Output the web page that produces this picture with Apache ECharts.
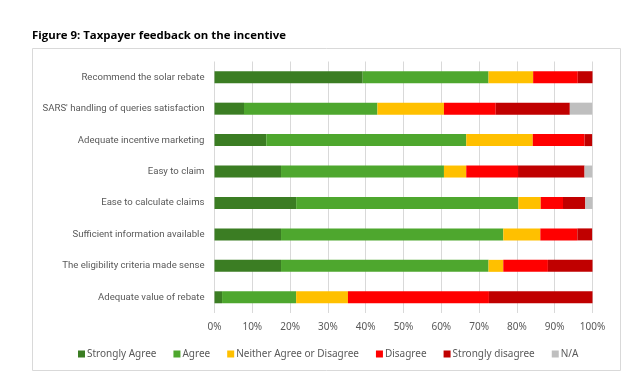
<!DOCTYPE html>
<html>
<head>
<meta charset="utf-8">
<script src="https://cdn.jsdelivr.net/npm/echarts@6/dist/echarts.min.js"></script>
<style>html,body{margin:0;padding:0;background:#fff;}#c{width:631px;height:382px;}</style>
</head>
<body>
<div id="c"></div>
<script>
const categories = [
  "Recommend the solar rebate",
  "SARS' handling of queries satisfaction",
  "Adequate incentive marketing",
  "Easy to claim",
  "Ease to calculate claims",
  "Sufficient information available",
  "The eligibility criteria made sense",
  "Adequate value of rebate"
];
const seriesNames = ["Strongly Agree", "Agree", "Neither Agree or Disagree", "Disagree", "Strongly disagree", "N/A"];
const stronglyAgree = [39.2, 7.8, 13.7, 17.6, 21.6, 17.6, 17.6, 2.0];
const agree = [33.3, 35.3, 52.9, 43.1, 58.8, 58.8, 54.9, 19.6];
const neither = [11.8, 17.6, 17.6, 5.9, 5.9, 9.8, 3.9, 13.7];
const disagree = [11.8, 13.7, 13.7, 13.7, 5.9, 9.8, 11.8, 37.3];
const stronglyDisagree = [3.9, 19.6, 2.0, 17.6, 5.9, 3.9, 11.8, 27.5];
const na = [0, 5.9, 0, 2.0, 2.0, 0, 0, 0];
const xTicks = [0, 10, 20, 30, 40, 50, 60, 70, 80, 90, 100];

const colors = ["#3b7d23", "#4ea72e", "#ffc000", "#ff0000", "#c00000", "#bfbfbf"];
const values = [stronglyAgree, agree, neither, disagree, stronglyDisagree, na];

const chart = echarts.init(document.getElementById('c'), null, {renderer: 'canvas'});
const font = "'Noto Sans', sans-serif";
chart.setOption({
  animation: false,
  title: {
    text: "Figure 9: Taxpayer feedback on the incentive",
    left: 27, top: 25,
    textStyle: {fontFamily: "'Open Sans', sans-serif", fontWeight: 'bold', fontSize: 11.4, color: '#000'}
  },
  graphic: [{
    type: 'rect', left: 32, top: 48, z: -1,
    shape: {width: 588, height: 322},
    style: {fill: '#fff', stroke: '#d9d9d9', lineWidth: 1}
  }],
  grid: {left: 214.5, right: 631 - 592.5, top: 61.5, height: 251.5, containLabel: false},
  legend: {
    data: seriesNames,
    left: 73, top: 344,
    itemWidth: 7, itemHeight: 7, itemGap: 17, icon: 'rect',
    textStyle: {fontFamily: font, fontSize: 10, color: '#595959', padding: [0, 0, 0, -3]}
  },
  xAxis: {
    type: 'value', min: 0, max: 100, interval: 10,
    axisLabel: {formatter: v => xTicks.includes(v) ? v + '%' : '', fontFamily: font, fontSize: 10, color: '#595959', margin: 9},
    splitLine: {lineStyle: {color: '#d9d9d9', width: 1}},
    axisLine: {show: false}, axisTick: {show: false}
  },
  yAxis: {
    type: 'category', data: categories, inverse: true,
    axisLabel: {fontFamily: "Roboto, sans-serif", fontSize: 9.6, color: '#595959', margin: 10},
    axisLine: {show: false}, axisTick: {show: false}
  },
  series: seriesNames.map((n, i) => ({
    name: n, type: 'bar', stack: 'total', barWidth: 12,
    itemStyle: {color: colors[i]},
    data: values[i]
  }))
});
</script>
</body>
</html>
